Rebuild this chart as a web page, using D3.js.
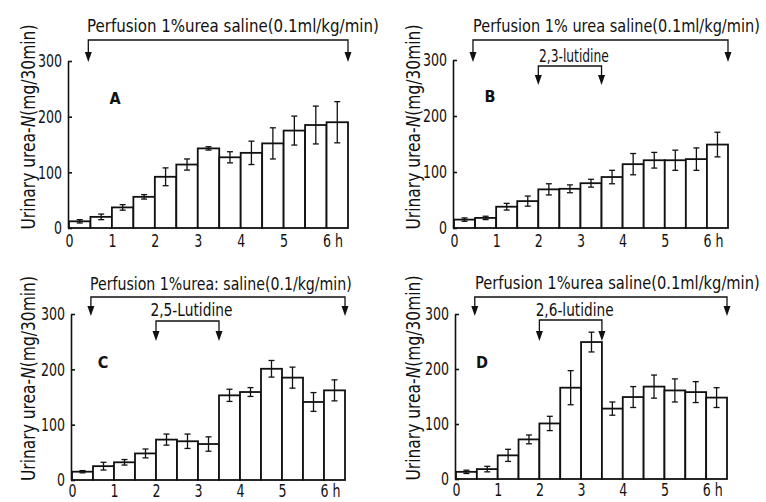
<!DOCTYPE html>
<html>
<head>
<meta charset="utf-8">
<script src="https://cdn.jsdelivr.net/npm/d3@7"></script>
<style>
  body { margin: 0; background: #fff; }
  svg { display: block; }
  text { font-family: "DejaVu Sans Condensed", "DejaVu Sans", sans-serif; font-stretch: condensed; fill: #111; }
  .bar { fill: #fff; stroke: #111; stroke-width: 1.8; }
  .err { stroke: #111; stroke-width: 1.3; }
  .bracket { fill: none; stroke: #111; stroke-width: 1.3; }
  .axis path, .axis line { stroke: #111; stroke-width: 1.6; }
</style>
</head>
<body>
<svg width="766" height="502"></svg>
<script>
// half-hour collection periods, 0 - 6.5 h
let periods = d3.range(13).map(i => i * 0.5);
let xTicks = [0, 1, 2, 3, 4, 5, 6];
let xTickLabels = ['0', '1', '2', '3', '4', '5', '6 h'];
let yTicks = [0, 100, 200, 300];

// urinary urea-N (mg/30min), mean and error
let meanA = [12, 20, 37, 56, 92, 114, 143, 127, 135, 152, 175, 185, 190];
let errA  = [3, 5, 5, 4, 16, 10, 3, 10, 21, 28, 26, 34, 37];
let meanB = [15, 18, 38, 48, 69, 70, 80, 91, 114, 121, 121, 123, 149];
let errB  = [3, 3, 6, 9, 10, 7, 7, 12, 19, 14, 18, 20, 22];
let meanC = [15, 25, 32, 48, 73, 70, 65, 153, 159, 201, 185, 141, 162];
let errC  = [2, 7, 5, 8, 10, 13, 13, 11, 8, 15, 19, 17, 19];
let meanD = [13, 18, 43, 72, 101, 166, 249, 128, 149, 168, 161, 158, 148];
let errD  = [3, 5, 11, 8, 13, 31, 18, 12, 19, 21, 21, 19, 18];

let panelLetters = ['A', 'B', 'C', 'D'];
let perfusionTitles = [
  'Perfusion 1%urea saline(0.1ml/kg/min)',
  'Perfusion 1% urea saline(0.1ml/kg/min)',
  'Perfusion 1%urea: saline(0.1/kg/min)',
  'Perfusion 1%urea saline(0.1ml/kg/min)'
];
let perfusionHours = [0.45, 6.5];
let drugNames = [null, '2,3-lutidine', '2,5-Lutidine', '2,6-lutidine'];
let drugHours = [2, 3.5];

let svg = d3.select('svg');

// layout of each panel (pixels)
let layout = [
  {ox: 0,   oy: 0,   x0: 69, x1: 348, y0: 228, y1: 61, tx0: 87, tx1: 379, ty: 32, by: 40, tip: 62, dby: 66, dtip: 85, dty: 63, dw: 0,  lx: 115, ly: 104, xp: 7},
  {ox: 383, oy: 0,   x0: 71, x1: 345, y0: 228, y1: 60, tx0: 90, tx1: 377, ty: 32, by: 40, tip: 62, dby: 66, dtip: 85, dty: 62, dw: 70, lx: 107, ly: 102, xp: 7},
  {ox: 0,   oy: 251, x0: 72, x1: 345, y0: 229, y1: 63, tx0: 90, tx1: 352, ty: 39, by: 46, tip: 65, dby: 70, dtip: 90, dty: 65, dw: 82, lx: 103, ly: 117, xp: 5},
  {ox: 383, oy: 251, x0: 73, x1: 344, y0: 228, y1: 63, tx0: 92, tx1: 377, ty: 38, by: 46, tip: 65, dby: 69, dtip: 90, dty: 65, dw: 78, lx: 99,  ly: 117, xp: 5}
];

let means = [meanA, meanB, meanC, meanD];
let errs = [errA, errB, errC, errD];

function bracket(g, x, h0, h1, yBar, yTip) {
  let xa = x(h0), xb = x(h1);
  g.append('path')
    .attr('class', 'bracket')
    .attr('d', `M${xa},${yTip - 8}V${yBar}H${xb}V${yTip - 8}`);
  [xa, xb].forEach(px => {
    g.append('path')
      .attr('d', `M${px - 3.5},${yTip - 10}L${px + 3.5},${yTip - 10}L${px},${yTip}Z`)
      .attr('fill', '#111');
  });
}

// squeeze a text horizontally to a given width (the original lettering is narrow)
function squeeze(sel, x0, yb, w) {
  let n = sel.node().getComputedTextLength();
  sel.attr('transform', `translate(${x0},${yb}) scale(${w / n},1)`);
}

layout.forEach((L, k) => {
  let g = svg.append('g').attr('transform', `translate(${L.ox},${L.oy})`);

  let x = d3.scaleLinear().domain([0, 6.5]).range([L.x0, L.x1]);
  let y = d3.scaleLinear().domain([0, 300]).range([L.y0, L.y1]);
  let bw = x(0.5) - x(0);

  // bars
  g.selectAll('rect.bar')
    .data(means[k])
    .enter()
    .append('rect')
    .attr('class', 'bar')
    .attr('x', (d, i) => x(periods[i]))
    .attr('y', d => y(d))
    .attr('width', bw)
    .attr('height', d => y(0) - y(d));

  // error bars
  let eg = g.append('g');
  means[k].forEach((m, i) => {
    let cx = x(periods[i] + 0.25);
    let lo = y(m - errs[k][i]), hi = y(m + errs[k][i]);
    eg.append('line').attr('class', 'err').attr('x1', cx).attr('x2', cx).attr('y1', lo).attr('y2', hi);
    eg.append('line').attr('class', 'err').attr('x1', cx - 3).attr('x2', cx + 3).attr('y1', lo).attr('y2', lo);
    eg.append('line').attr('class', 'err').attr('x1', cx - 3).attr('x2', cx + 3).attr('y1', hi).attr('y2', hi);
  });

  // y axis
  let ya = g.append('g')
    .attr('class', 'axis')
    .attr('transform', `translate(${L.x0 - 1},0)`)
    .call(d3.axisLeft(y).tickValues(yTicks).tickSize(-4).tickSizeOuter(0).tickPadding(6));
  ya.selectAll('text')
    .style('font-size', '18px')
    .attr('textLength', d => String(d).length * 8)
    .attr('lengthAdjust', 'spacingAndGlyphs');

  // x axis
  let xa = g.append('g')
    .attr('class', 'axis')
    .attr('transform', `translate(0,${L.y0})`)
    .call(d3.axisBottom(x).tickValues(xTicks).tickSize(0).tickPadding(L.xp)
      .tickFormat((d, i) => xTickLabels[i]));
  xa.select('.domain').remove();
  xa.selectAll('text')
    .style('font-size', '17px')
    .attr('textLength', (d, i) => i === 6 ? 20 : 8)
    .attr('lengthAdjust', 'spacingAndGlyphs')
    .attr('dx', (d, i) => i === 6 ? 6 : 0);

  // y label
  let yl = g.append('text')
    .attr('transform', `translate(${k % 2 ? 30 : 28},${(L.y0 + 20) / 2 + 3}) rotate(-90)`)
    .attr('text-anchor', 'middle')
    .attr('dy', '0.35em')
    .attr('textLength', 205)
    .attr('lengthAdjust', 'spacingAndGlyphs')
    .style('font-size', '19px');
  yl.append('tspan').text('Urinary urea-');
  yl.append('tspan').style('font-style', 'italic').text('N');
  yl.append('tspan').text('(mg/30min)');

  // perfusion annotation
  let title = g.append('text')
    .style('font-size', '18px')
    .text(perfusionTitles[k]);
  squeeze(title, L.tx0, L.ty, L.tx1 - L.tx0);
  bracket(g, x, perfusionHours[0], perfusionHours[1], L.by, L.tip);

  // drug annotation
  if (drugNames[k]) {
    bracket(g, x, drugHours[0], drugHours[1], L.dby, L.dtip);
    let dt = g.append('text')
      .style('font-size', '17px')
      .text(drugNames[k]);
    squeeze(dt, x((drugHours[0] + drugHours[1]) / 2) + 4 - L.dw / 2, L.dty, L.dw);
  }

  // panel letter
  g.append('text')
    .attr('x', L.lx)
    .attr('y', L.ly)
    .attr('text-anchor', 'middle')
    .style('font-size', '16px')
    .style('font-weight', 'bold')
    .text(panelLetters[k]);
});
</script>
</body>
</html>
